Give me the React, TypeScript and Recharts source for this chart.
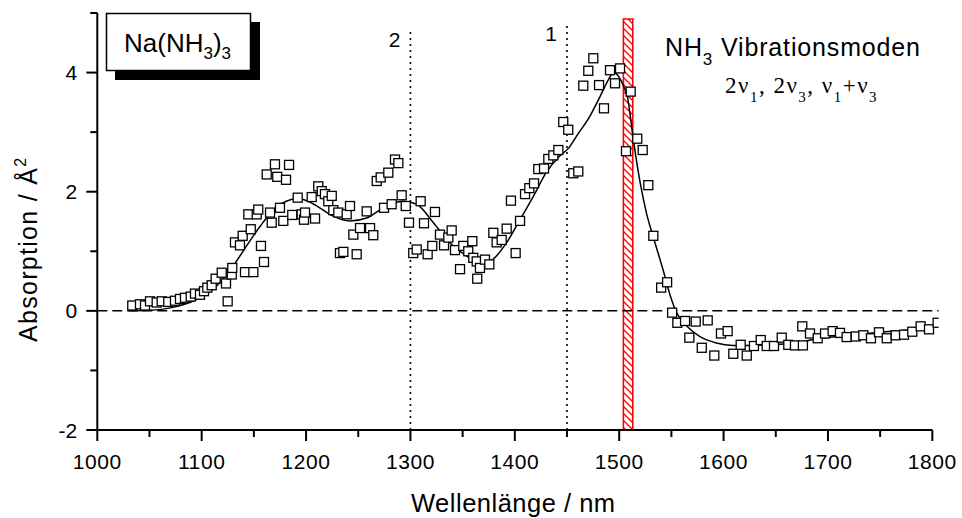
import React from 'react';
import {
  ComposedChart,
  Scatter,
  Line,
  XAxis,
  YAxis,
  ReferenceLine,
  ReferenceArea,
} from 'recharts';

// ---- data ----
const wavelengths = [
  1033.5, 1040.9, 1045.7, 1050.5, 1056.9, 1061.7, 1068.0, 1074.4, 1079.2, 1084.0,
  1089.5, 1093.6, 1098.4, 1102.2, 1105.4, 1109.6, 1113.4, 1119.2, 1123.3, 1124.9,
  1128.8, 1129.3, 1131.9, 1136.7, 1139.3, 1141.5, 1144.7, 1147.0, 1149.5, 1152.7,
  1154.2, 1156.8, 1159.7, 1162.3, 1165.5, 1167.1, 1170.2, 1172.4, 1175.0, 1178.2,
  1180.8, 1183.7, 1186.8, 1192.0, 1195.8, 1198.0, 1199.0, 1205.4, 1208.6, 1211.7,
  1215.0, 1218.1, 1221.3, 1224.6, 1226.1, 1230.9, 1232.5, 1235.7, 1238.9, 1242.1,
  1245.3, 1248.5, 1251.7, 1258.1, 1261.3, 1264.4, 1267.7, 1271.5, 1274.7, 1278.8,
  1282.0, 1285.2, 1288.4, 1291.6, 1295.5, 1298.6, 1302.7, 1306.0, 1309.8, 1313.0,
  1316.5, 1320.9, 1323.5, 1328.3, 1332.2, 1336.3, 1339.5, 1342.7, 1347.5, 1350.6,
  1355.4, 1359.3, 1360.2, 1363.5, 1364.0, 1366.6, 1371.4, 1375.6, 1379.4, 1382.6,
  1387.4, 1392.2, 1396.3, 1400.8, 1405.0, 1409.8, 1413.9, 1418.4, 1422.5, 1428.0,
  1432.1, 1436.9, 1441.7, 1446.4, 1451.2, 1456.0, 1460.8, 1465.6, 1470.4, 1475.2,
  1480.7, 1485.4, 1491.2, 1496.0, 1500.8, 1506.5, 1511.0, 1517.3, 1522.5, 1527.9,
  1532.7, 1540.2, 1545.9, 1550.7, 1555.7, 1563.1, 1567.2, 1573.3, 1579.1, 1584.8,
  1591.1, 1597.5, 1603.9, 1609.3, 1616.4, 1622.2, 1629.1, 1635.6, 1641.3, 1648.3,
  1655.7, 1662.0, 1668.4, 1675.4, 1676.0, 1682.8, 1690.2, 1697.2, 1704.5, 1711.5,
  1717.9, 1726.6, 1733.9, 1741.2, 1748.9, 1756.3, 1764.9, 1772.9, 1780.8, 1788.8,
  1796.8, 1805.1,
];

const absorption = [
  0.09, 0.11, 0.09, 0.16, 0.14, 0.16, 0.15, 0.17, 0.2, 0.22,
  0.24, 0.29, 0.27, 0.33, 0.39, 0.43, 0.54, 0.64, 0.46, 0.16,
  0.61, 0.72, 1.15, 1.1, 1.26, 0.65, 1.62, 1.37, 0.65, 1.62,
  1.7, 1.09, 0.82, 2.29, 1.65, 1.48, 2.46, 2.25, 1.73, 1.51,
  2.2, 2.45, 1.61, 1.9, 1.62, 1.53, 1.65, 1.91, 1.55, 2.09,
  2.01, 1.96, 1.84, 1.93, 1.69, 1.65, 0.97, 0.99, 1.62, 1.76,
  1.28, 0.95, 1.39, 1.67, 1.39, 1.27, 2.18, 2.24, 1.73, 2.32,
  1.79, 2.54, 2.48, 1.94, 1.76, 1.48, 0.97, 1.03, 1.84, 1.47,
  0.95, 1.09, 1.66, 1.28, 1.1, 1.23, 1.35, 1.02, 0.7, 1.09,
  1.0, 1.17, 0.89, 0.83, 0.54, 0.72, 0.86, 0.78, 1.31, 1.15,
  1.19, 1.38, 1.85, 0.97, 1.51, 1.96, 2.06, 2.14, 2.38, 2.39,
  2.55, 2.61, 2.7, 3.17, 3.04, 2.31, 2.34, 3.78, 4.03, 4.24,
  3.79, 3.4, 4.04, 3.82, 4.07, 2.68, 3.68, 2.89, 2.7, 2.11,
  1.26, 0.39, 0.48, -0.03, -0.2, -0.17, -0.45, -0.18, -0.62, -0.16,
  -0.75, -0.38, -0.34, -0.72, -0.57, -0.75, -0.59, -0.49, -0.59, -0.59,
  -0.45, -0.57, -0.58, -0.26, -0.58, -0.38, -0.46, -0.38, -0.34, -0.37,
  -0.44, -0.43, -0.41, -0.46, -0.36, -0.46, -0.41, -0.4, -0.35, -0.26,
  -0.31, -0.2,
];

const fitWavelengths = [
  1030, 1050, 1070, 1095, 1114, 1130, 1143, 1156, 1169, 1181,
  1192, 1202, 1213, 1226, 1242, 1258, 1274, 1284, 1293, 1306,
  1322, 1338, 1354, 1366, 1372, 1380, 1392, 1405, 1418, 1430,
  1443, 1452, 1459, 1472, 1482, 1490, 1494.5, 1500, 1504, 1508,
  1513.5, 1520, 1526, 1533, 1542, 1549, 1555, 1565, 1577, 1593,
  1609, 1641, 1670, 1686, 1718, 1750, 1782, 1805,
];

const fitAbsorption = [
  0.0, 0.01, 0.05, 0.19, 0.41, 0.75, 1.09, 1.42, 1.7, 1.84,
  1.88, 1.84, 1.73, 1.59, 1.51, 1.56, 1.73, 1.81, 1.84, 1.79,
  1.48, 1.14, 0.92, 0.81, 0.8, 0.88, 1.14, 1.53, 1.93, 2.32,
  2.6, 2.74, 2.93, 3.27, 3.61, 3.89, 4.0, 3.92, 3.78, 3.58,
  2.88, 2.16, 1.65, 1.22, 0.69, 0.25, -0.03, -0.26, -0.43, -0.54,
  -0.58, -0.57, -0.54, -0.48, -0.415, -0.36, -0.31, -0.24,
];

const xTicks = [
  1000, 1050, 1100, 1150, 1200, 1250, 1300, 1350, 1400, 1450,
  1500, 1550, 1600, 1650, 1700, 1750, 1800,
];
const yTicks = [-2, -1, 0, 1, 2, 3, 4, 5];

const markerWavelengths = [1300, 1450];
const markerLabels = ['2', '1'];
const markerTops = [4.7, 4.8];

const bandStart = 1504;
const bandEnd = 1513;
const bandTop = 4.9;

const xDomain = [1000, 1806];
const yDomain = [-2, 5];

// ---- derived tables ----
const scatterData = wavelengths.map((x, i) => ({ x, y: absorption[i] }));
const fitData = fitWavelengths.map((x, i) => ({ x, y: fitAbsorption[i] }));

const SANS = "'Liberation Sans', Arial, Helvetica, sans-serif";
const SERIF = "'Liberation Serif', 'Times New Roman', serif";

const XTick = (props: any) => {
  const { x, y, payload } = props;
  const v = payload.value as number;
  const major = v % 100 === 0;
  return (
    <g>
      <line x1={x} x2={x} y1={y} y2={y + (major ? 11 : 7)} stroke="#000" strokeWidth={2} />
      {major && (
        <text
          x={x}
          y={y + 38.5}
          textAnchor="middle"
          fontSize={21}
          fontFamily={SANS}
          letterSpacing={0.6}
          fill="#000"
        >
          {v}
        </text>
      )}
    </g>
  );
};

const YTick = (props: any) => {
  const { x, y, payload } = props;
  const v = payload.value as number;
  const major = v % 2 === 0;
  return (
    <g>
      <line x1={x} x2={x - (major ? 11 : 7)} y1={y} y2={y} stroke="#000" strokeWidth={2} />
      {major && (
        <text
          x={x - 20}
          y={y}
          dy="0.36em"
          textAnchor="end"
          fontSize={21}
          fontFamily={SANS}
          fill="#000"
        >
          {v}
        </text>
      )}
    </g>
  );
};

const Square = (props: any) => {
  const { cx, cy } = props;
  if (cx == null || cy == null) return null;
  return (
    <rect
      x={cx - 4.5}
      y={cy - 4.5}
      width={9}
      height={9}
      fill="#fff"
      stroke="#000"
      strokeWidth={1.3}
    />
  );
};

const markerLabel = (text: string) => (p: any) => {
  const vb = p.viewBox || {};
  return (
    <text
      x={(vb.x ?? 0) - 10}
      y={(vb.y ?? 0) + 16}
      textAnchor="end"
      fontSize={21}
      fontFamily={SANS}
      fill="#000"
    >
      {text}
    </text>
  );
};

const xTitle = (p: any) => {
  const vb = p.viewBox || {};
  return (
    <text
      x={(vb.x ?? 0) + 416}
      y={(vb.y ?? 0) + 82}
      textAnchor="middle"
      fontSize={25.5}
      fontFamily={SANS}
      letterSpacing={0.5}
      fill="#000"
    >
      Wellenlänge / nm
    </text>
  );
};

const yTitle = (p: any) => {
  const vb = p.viewBox || {};
  const tx = (vb.x ?? 0) + 37;
  const ty = (vb.y ?? 0) + (vb.height ?? 0) - 88;
  return (
    <text
      x={tx}
      y={ty}
      transform={`rotate(-90 ${tx} ${ty})`}
      textAnchor="start"
      fontSize={25}
      fontFamily={SANS}
      letterSpacing={1.3}
      fill="#000"
    >
      Absorption / Å
      <tspan fontSize={16} dy={-11}>
        2
      </tspan>
    </text>
  );
};

export default function App() {
  return (
    <div
      style={{
        position: 'absolute',
        left: 0,
        top: 0,
        width: 962,
        height: 518,
        background: '#fff',
      }}
    >
      <ComposedChart
        width={962}
        height={518}
        margin={{ top: 13, right: 23.4, left: 0, bottom: 0 }}
      >
        <defs>
          <pattern id="redHatch" patternUnits="userSpaceOnUse" width={7} height={7}>
            <path
              d="M-1,-1 L8,8 M-1,6 L1,8 M6,-1 L8,1"
              stroke="#ff0000"
              strokeWidth={1.3}
            />
          </pattern>
        </defs>
        <XAxis
          type="number"
          dataKey="x"
          domain={xDomain}
          ticks={xTicks}
          interval={0}
          tick={XTick}
          tickLine={false}
          axisLine={false}
          tickSize={0}
          tickMargin={0}
          height={88}
          allowDataOverflow
          label={{ content: xTitle }}
        />
        <YAxis
          type="number"
          dataKey="y"
          domain={yDomain}
          ticks={yTicks}
          interval={0}
          tick={YTick}
          tickLine={false}
          axisLine={{ stroke: '#000', strokeWidth: 2 }}
          tickSize={0}
          tickMargin={0}
          width={97.3}
          allowDataOverflow
          label={{ content: yTitle }}
        />
        <ReferenceLine
          y={0}
          stroke="#000"
          strokeWidth={1.5}
          strokeDasharray="10 5"
          ifOverflow="visible"
        />
        {markerWavelengths.map((m, i) => (
          <ReferenceLine
            key={m}
            segment={[
              { x: m, y: yDomain[0] },
              { x: m, y: markerTops[i] },
            ]}
            stroke="#000"
            strokeWidth={1.6}
            strokeDasharray="2 4"
            ifOverflow="visible"
            label={{ content: markerLabel(markerLabels[i]) }}
          />
        ))}
        <Scatter
          data={scatterData}
          dataKey="y"
          shape={Square}
          isAnimationActive={false}
        />
        <Line
          data={fitData}
          dataKey="y"
          type="monotone"
          dot={false}
          activeDot={false}
          stroke="#000"
          strokeWidth={1.5}
          isAnimationActive={false}
        />
        <ReferenceArea
          x1={bandStart}
          x2={bandEnd}
          y1={yDomain[0]}
          y2={bandTop}
          fill="url(#redHatch)"
          fillOpacity={1}
          stroke="#ff0000"
          strokeWidth={1.6}
          ifOverflow="visible"
        />
        <ReferenceLine
          segment={[
            { x: 1000, y: yDomain[0] },
            { x: 1800, y: yDomain[0] },
          ]}
          stroke="#000"
          strokeWidth={2}
          ifOverflow="visible"
        />
      </ComposedChart>

      <svg
        width={962}
        height={518}
        style={{ position: 'absolute', left: 0, top: 0, pointerEvents: 'none' }}
      >
        <rect x={115} y={22} width={145} height={58} fill="#000" />
        <rect x={106.5} y={13.5} width={144} height={57} fill="#fff" stroke="#000" strokeWidth={1.5} />
        <text x={124} y={52} fontSize={26} fontFamily={SANS} fill="#000">
          Na(NH
          <tspan fontSize={17} dy={7}>3</tspan>
          <tspan fontSize={26} dy={-7}>)</tspan>
          <tspan fontSize={17} dy={7}>3</tspan>
        </text>

        <text x={665} y={56} fontSize={25} fontFamily={SANS} letterSpacing={0.85} fill="#000">
          NH
          <tspan fontSize={17} dy={9}>3</tspan>
          <tspan dy={-9}> Vibrationsmoden</tspan>
        </text>
        <text x={725} y={93} fontSize={23} fontFamily={SERIF} letterSpacing={1.5} fill="#000">
          2ν
          <tspan fontSize={15} dy={9}>1</tspan>
          <tspan dy={-9}>, 2ν</tspan>
          <tspan fontSize={15} dy={9}>3</tspan>
          <tspan dy={-9}>, ν</tspan>
          <tspan fontSize={15} dy={9}>1</tspan>
          <tspan dy={-9}>+ν</tspan>
          <tspan fontSize={15} dy={9}>3</tspan>
        </text>
      </svg>
    </div>
  );
}
